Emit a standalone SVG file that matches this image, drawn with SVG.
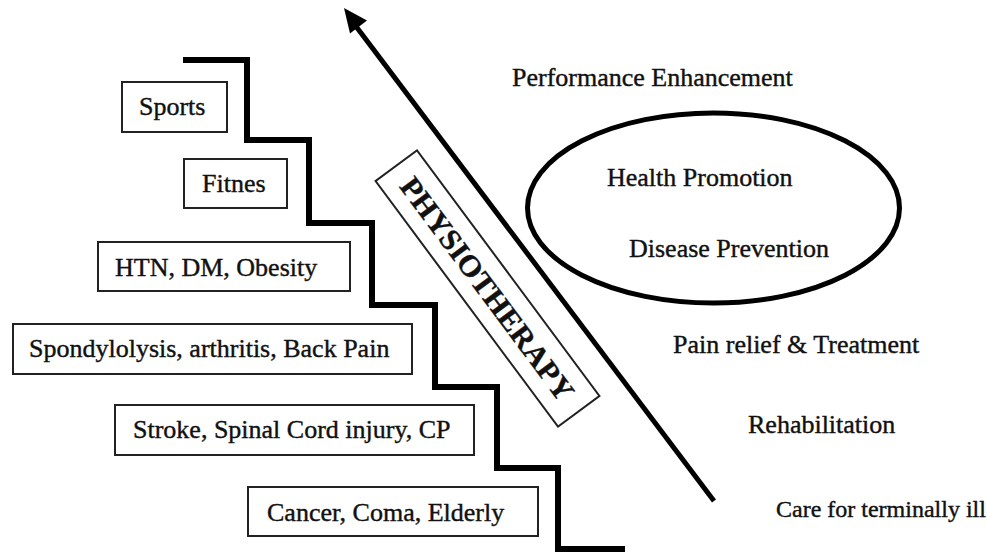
<svg xmlns="http://www.w3.org/2000/svg" width="987" height="552" viewBox="0 0 987 552">
<style>
text{font-family:"Liberation Serif","Times New Roman",serif;fill:#111;stroke:#111;stroke-width:0.4}
.bt{font-size:26px}
.rt{font-size:26px}
.box{fill:#fff;stroke:#222;stroke-width:2}
.stairs{fill:none;stroke:#000;stroke-width:6;stroke-linejoin:miter}
</style>
<rect width="987" height="552" fill="#fff"/>
<g id="stairs"><path class="stairs" d="M183,60 H247 V140 H309 V223 H372 V305 H435 V387 H497 V468 H558 V549 H625"/></g>
<g id="sports"><rect class="box" x="122" y="82" width="105" height="50"/><text class="bt" x="139" y="115">Sports</text></g>
<g id="fitnes"><rect class="box" x="184" y="159" width="103" height="49"/><text class="bt" x="202" y="192">Fitnes</text></g>
<g id="htn"><rect class="box" x="98" y="242" width="252" height="49"/><text class="bt" x="115" y="276">HTN, DM, Obesity</text></g>
<g id="spondy"><rect class="box" x="13" y="324" width="399" height="50"/><text class="bt" x="29" y="357">Spondylolysis, arthritis, Back Pain</text></g>
<g id="stroke"><rect class="box" x="115" y="405" width="359" height="50"/><text class="bt" x="133" y="438">Stroke, Spinal Cord injury, CP</text></g>
<g id="cancer"><rect class="box" x="248" y="487" width="290" height="49"/><text class="bt" x="267" y="521">Cancer, Coma, Elderly</text></g>
<g id="physio" transform="translate(487.5,288.5) rotate(53.4)">
<rect x="-153" y="-25.8" width="306" height="51.6" fill="#fff" stroke="#222" stroke-width="2"/>
<text x="0" y="10.5" text-anchor="middle" font-size="30" font-weight="bold" textLength="270" lengthAdjust="spacingAndGlyphs">PHYSIOTHERAPY</text>
</g>
<g id="connectors">
<line x1="714" y1="501" x2="355" y2="25" stroke="#000" stroke-width="5"/>
<polygon points="344,8 367,20.5 350,33.5" fill="#000"/>
</g>
<g id="prevention"><ellipse cx="713.5" cy="208" rx="186" ry="95" fill="none" stroke="#000" stroke-width="5"/>
<text class="rt" x="607" y="186">Health Promotion</text>
<text class="rt" x="629" y="257">Disease Prevention</text></g>
<g id="perf"><text class="rt" x="512" y="86">Performance Enhancement</text></g>
<g id="pain"><text class="rt" x="673" y="353">Pain relief &amp; Treatment</text></g>
<g id="rehab"><text class="rt" x="748" y="433">Rehabilitation</text></g>
<g id="care"><text x="776" y="517" font-size="24">Care for terminally ill</text></g>
</svg>
